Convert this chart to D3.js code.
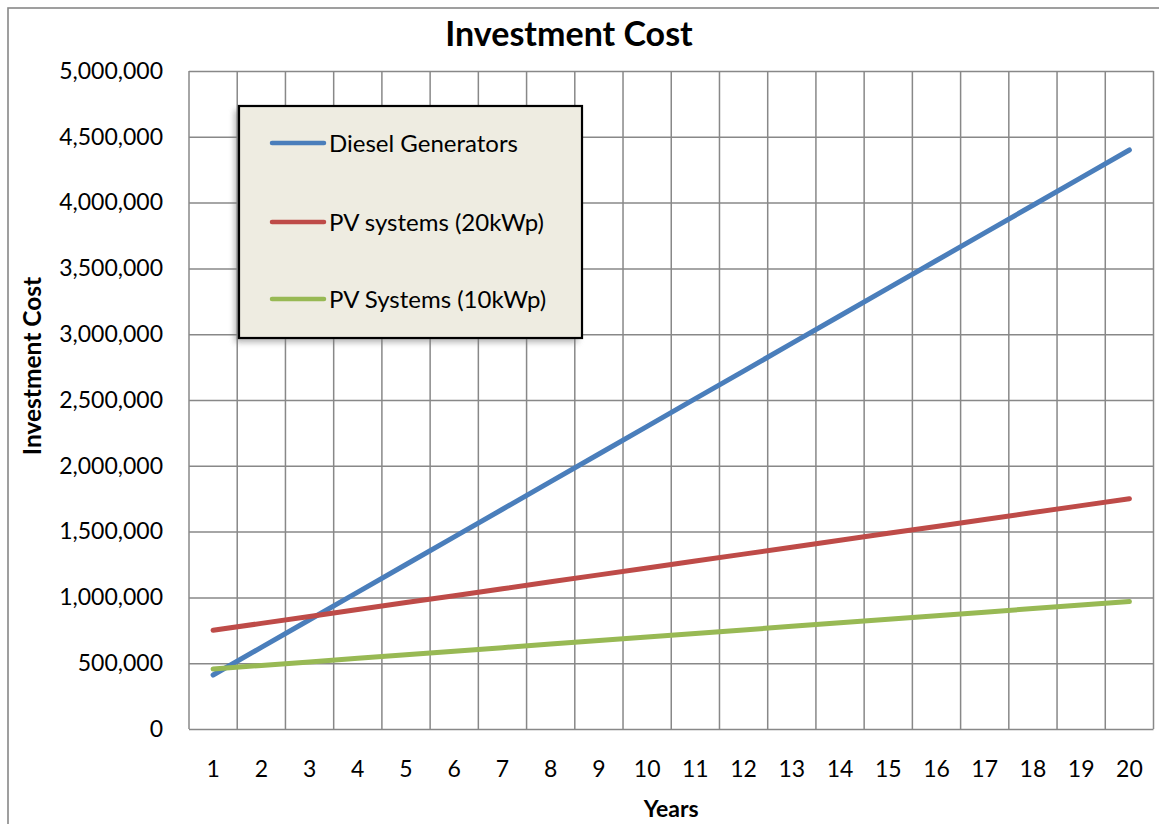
<!DOCTYPE html>
<html>
<head>
<meta charset="utf-8">
<script src="https://cdn.jsdelivr.net/npm/d3@7/dist/d3.min.js"></script>
<style>
  html, body { margin: 0; padding: 0; background: #fff; }
  svg { display: block; font-family: Lato, "Open Sans", sans-serif; }
</style>
</head>
<body>
<svg id="chart" width="1159" height="824"></svg>
<script>
// Years on the horizontal axis
const years = [1, 2, 3, 4, 5, 6, 7, 8, 9, 10, 11, 12, 13, 14, 15, 16, 17, 18, 19, 20];

// Cumulative investment cost per option
const dieselGenerators = [410000, 620000, 830000, 1040000, 1250000, 1460000, 1670000, 1880000, 2090000, 2300000,
                          2510000, 2720000, 2930000, 3140000, 3350000, 3560000, 3770000, 3980000, 4190000, 4400000];
const pv20kWp = [750000, 802600, 855300, 907900, 960500, 1013200, 1065800, 1118400, 1171100, 1223700,
                 1276300, 1328900, 1381600, 1434200, 1486800, 1539500, 1592100, 1644700, 1697400, 1750000];
const pv10kWp = [456000, 483000, 510000, 537000, 564000, 591000, 618000, 645000, 672000, 699000,
                 726000, 753000, 780000, 807000, 834000, 861000, 888000, 915000, 942000, 969000];

const seriesNames = ["Diesel Generators", "PV systems (20kWp)", "PV Systems (10kWp)"];
const seriesColors = ["#4A7EBB", "#BE4B48", "#98B954"];
const yTicks = [0, 500000, 1000000, 1500000, 2000000, 2500000, 3000000, 3500000, 4000000, 4500000, 5000000];

const series = [dieselGenerators, pv20kWp, pv10kWp].map((vals, i) => ({
  name: seriesNames[i], color: seriesColors[i],
  points: vals.map((v, j) => ({ year: years[j], value: v }))
}));

const svg = d3.select("#chart");
const plot = { left: 189, right: 1153.5, top: 71, bottom: 729 };

const x = d3.scaleBand().domain(years).range([plot.left, plot.right]).padding(0);
const y = d3.scaleLinear().domain([0, 5000000]).range([plot.bottom, plot.top]);

const gridColor = "#888888";

// Outer chart frame
svg.append("rect")
  .attr("x", 8).attr("y", 8).attr("width", 1300).attr("height", 1000)
  .attr("fill", "none").attr("stroke", gridColor).attr("stroke-width", 1.6);

// Title
svg.append("text")
  .attr("x", 569).attr("y", 46)
  .attr("text-anchor", "middle")
  .attr("font-size", 34).attr("font-weight", "bold").attr("fill", "#000")
  .text("Investment Cost");

// Horizontal gridlines and value labels
const yAxis = d3.axisLeft(y).tickValues(yTicks)
  .tickSize(-(plot.right - plot.left)).tickPadding(26)
  .tickFormat(d => d3.format(",")(d));
const yg = svg.append("g").attr("transform", `translate(${plot.left},0)`).call(yAxis);
yg.select(".domain").remove();
yg.selectAll(".tick line").attr("stroke", gridColor).attr("stroke-width", 1.5);
yg.selectAll(".tick text").attr("font-size", 23).attr("fill", "#000")
  .attr("font-family", "Lato, 'Open Sans', sans-serif");

// Vertical gridlines on category boundaries
const boundaries = years.map(d => x(d)).concat([x(years[years.length - 1]) + x.bandwidth()]);
svg.append("g").selectAll("line").data(boundaries).join("line")
  .attr("x1", d => d).attr("x2", d => d)
  .attr("y1", plot.top).attr("y2", plot.bottom)
  .attr("stroke", gridColor).attr("stroke-width", 1.5);

// Category labels
const xAxis = d3.axisBottom(x).tickSize(0).tickPadding(32);
const xg = svg.append("g").attr("transform", `translate(0,${plot.bottom})`).call(xAxis);
xg.select(".domain").remove();
xg.selectAll(".tick text").attr("font-size", 23).attr("fill", "#000")
  .attr("font-family", "Lato, 'Open Sans', sans-serif");

// Axis titles
svg.append("text")
  .attr("x", (plot.left + plot.right) / 2).attr("y", 817)
  .attr("text-anchor", "middle").attr("font-size", 23).attr("font-weight", "bold")
  .text("Years");
svg.append("text")
  .attr("transform", "translate(41,366) rotate(-90)")
  .attr("text-anchor", "middle").attr("font-size", 24.5).attr("font-weight", "bold")
  .text("Investment Cost");

// Series lines
const line = d3.line()
  .x(d => x(d.year) + x.bandwidth() / 2)
  .y(d => y(d.value));
svg.append("g").selectAll("path").data(series).join("path")
  .attr("d", d => line(d.points))
  .attr("fill", "none")
  .attr("stroke", d => d.color)
  .attr("stroke-width", 5)
  .attr("stroke-linecap", "round")
  .attr("stroke-linejoin", "round");

// Legend box with soft shadow
const defs = svg.append("defs");
const f = defs.append("filter").attr("id", "shadow")
  .attr("x", "-10%").attr("y", "-10%").attr("width", "120%").attr("height", "120%");
f.append("feGaussianBlur").attr("stdDeviation", 3);

const lg = { x: 239, y: 106, w: 343, h: 232 };
svg.append("rect")
  .attr("x", lg.x - 4).attr("y", lg.y + 4).attr("width", lg.w).attr("height", lg.h)
  .attr("fill", "#777").attr("opacity", 0.6).attr("filter", "url(#shadow)");
svg.append("rect")
  .attr("x", lg.x).attr("y", lg.y).attr("width", lg.w).attr("height", lg.h)
  .attr("fill", "#EEECE1").attr("stroke", "#000").attr("stroke-width", 2.2);

const rowY = [143, 222, 299];
const items = svg.append("g").selectAll("g").data(series).join("g")
  .attr("transform", (d, i) => `translate(0,${rowY[i]})`);
items.append("line")
  .attr("x1", 272).attr("x2", 324).attr("y1", 0).attr("y2", 0)
  .attr("stroke", d => d.color).attr("stroke-width", 4.5).attr("stroke-linecap", "round");
items.append("text")
  .attr("x", 329).attr("y", 8.5)
  .attr("font-size", 24).attr("fill", "#000")
  .text(d => d.name);
</script>
</body>
</html>
